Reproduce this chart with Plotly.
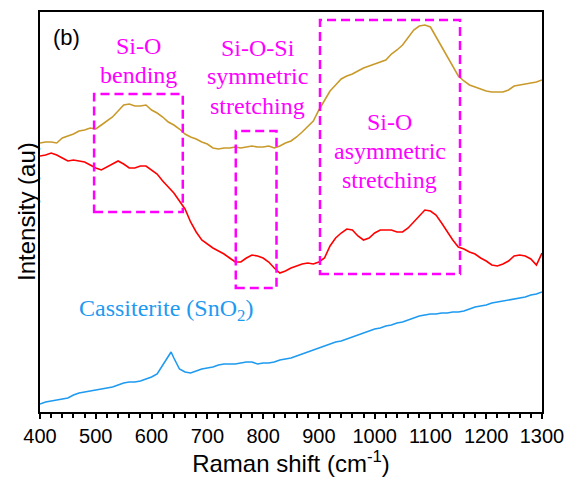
import plotly.graph_objects as go

# Raman shift (cm-1), sampled every 10 cm-1
shift = list(range(400, 1301, 10))

# Upper (gold) spectrum, arbitrary intensity
gold = [269, 270, 270, 269, 274, 276, 278, 281, 282, 284,
        283, 287, 291, 295, 301, 307, 308, 306, 306, 307,
        302, 299, 295, 290, 287, 283, 278, 275, 273, 270,
        268, 264, 263, 264, 264, 265, 264, 265, 266, 265,
        265, 266, 264, 266, 269, 271, 275, 280, 285, 291,
        302, 311, 321, 327, 333, 336, 338, 341, 344, 346,
        348, 350, 352, 358, 362, 367, 375, 382, 386, 387,
        385, 375, 366, 356, 346, 336, 331, 327, 325, 323,
        321, 320, 320, 320, 322, 326, 327, 328, 329, 330, 332]

# Middle (red) spectrum
red = [256, 257, 259, 257, 254, 251, 252, 251, 250, 247,
       244, 242, 245, 248, 251, 248, 244, 244, 246, 246,
       242, 238, 231, 225, 219, 211, 203, 190, 180, 172,
       168, 164, 161, 158, 154, 150, 150, 154, 157, 156,
       154, 150, 144, 139, 141, 144, 146, 148, 149, 148,
       150, 154, 166, 174, 179, 183, 182, 176, 172, 174,
       179, 182, 182, 182, 180, 180, 184, 190, 197, 202,
       201, 197, 189, 180, 172, 165, 163, 160, 158, 154,
       151, 147, 146, 148, 151, 156, 157, 156, 153, 147, 159]

# Cassiterite (SnO2) reference spectrum
shift_sn = [400, 410, 420, 430, 440, 450, 460, 470, 480, 490,
            500, 510, 520, 530, 540, 550, 560, 570, 580, 590,
            600, 610, 620, 630, 635, 640, 645, 650, 660, 670,
            680, 690, 700, 710, 720, 730, 740, 750, 760, 770,
            780, 790, 800, 810, 820, 830, 840, 850, 860, 870,
            880, 890, 900, 910, 920, 930, 940, 950, 960, 970,
            980, 990, 1000, 1010, 1020, 1030, 1040, 1050, 1060, 1070,
            1080, 1090, 1100, 1110, 1120, 1130, 1140, 1150, 1160, 1170,
            1180, 1190, 1200, 1210, 1220, 1230, 1240, 1250, 1260, 1270,
            1280, 1290, 1300]
sno2 = [8, 10, 11, 12, 13, 14, 17, 19, 20, 21,
        22, 23, 24, 25, 27, 29, 30, 30, 31, 33,
        35, 38, 47, 56, 60, 54, 48, 43, 40, 39,
        41, 43, 44, 45, 47, 48, 48, 48, 49, 50,
        50, 48, 49, 49, 50, 52, 53, 54, 56, 58,
        60, 62, 64, 66, 68, 70, 71, 73, 75, 77,
        79, 81, 83, 84, 86, 87, 89, 90, 92, 94,
        96, 97, 98, 98, 99, 99, 100, 100, 101, 103,
        105, 106, 107, 109, 110, 111, 112, 113, 114, 115,
        117, 118, 120]

# Band regions (x0, x1, y0, y1)
bands = [(497, 656, 200, 318), (751, 824, 124, 281), (902, 1153, 138, 392)]

GOLD = "#C99A2A"
RED = "#FF0000"
BLUE = "#1E9AF0"
MAG = "#FF00FF"

fig = go.Figure()
fig.add_trace(go.Scatter(x=shift, y=gold, mode="lines", line=dict(color=GOLD, width=1.6), showlegend=False))
fig.add_trace(go.Scatter(x=shift, y=red, mode="lines", line=dict(color=RED, width=1.6), showlegend=False))
fig.add_trace(go.Scatter(x=shift_sn, y=sno2, mode="lines", line=dict(color=BLUE, width=1.6), showlegend=False))

for x0, x1, y0, y1 in bands:
    fig.add_shape(type="rect", xref="x", yref="y", x0=x0, x1=x1, y0=y0, y1=y1,
                  line=dict(color=MAG, width=2.5, dash="9px,5px"), fillcolor="rgba(0,0,0,0)")

serif = "Liberation Serif"
labels = [
    ("Si-O", 576, 366), ("bending", 576, 337),
    ("Si-O-Si", 790, 364), ("symmetric", 790, 336), ("stretching", 790, 306),
    ("Si-O", 1027, 290), ("asymmetric", 1027, 261), ("stretching", 1027, 232),
]
for t, x, y in labels:
    fig.add_annotation(x=x, y=y, xref="x", yref="y", text=t, showarrow=False,
                       font=dict(family=serif, size=24, color=MAG), xanchor="center", yanchor="middle")

fig.add_annotation(x=626, y=102, xref="x", yref="y", text="Cassiterite (SnO<sub>2</sub>)", showarrow=False,
                   font=dict(family=serif, size=24, color=BLUE), xanchor="center", yanchor="middle")
fig.add_annotation(x=448, y=375, xref="x", yref="y", text="(b)", showarrow=False,
                   font=dict(family="Liberation Sans", size=22, color="black"), xanchor="center", yanchor="middle")

# y-axis title, placed as a rotated text beside the axis
fig.add_annotation(x=-14 / 502, y=0.5, xref="paper", yref="paper", text="Intensity (au)", showarrow=False,
                   textangle=-90, font=dict(family="Liberation Sans", size=24, color="black"),
                   xanchor="center", yanchor="middle")

fig.update_layout(
    width=568, height=481,
    margin=dict(l=40, r=26, t=12, b=69, autoexpand=False),
    paper_bgcolor="white", plot_bgcolor="white",
    font=dict(family="Liberation Sans", color="black"),
)
fig.update_xaxes(
    range=[400, 1300], showgrid=False, zeroline=False, automargin=False,
    showline=True, linecolor="black", linewidth=2, mirror=True,
    ticks="outside", ticklen=5, tickwidth=1.5, tickcolor="black",
    tickvals=list(range(400, 1301, 100)),
    ticktext=[str(v) for v in range(400, 1301, 100)],
    tickfont=dict(size=20, family="Liberation Sans"),
    minor=dict(ticks="outside", ticklen=4, tickwidth=1.5, tickcolor="black", dtick=20, showgrid=False),
    title=dict(text="Raman shift (cm<sup>-1</sup>)", font=dict(size=24, family="Liberation Sans"), standoff=4),
)
fig.update_yaxes(
    range=[0, 400], showgrid=False, zeroline=False, automargin=False,
    showline=True, linecolor="black", linewidth=2, mirror=True,
    ticks="", showticklabels=False,
)

fig.write_html("out.html")
